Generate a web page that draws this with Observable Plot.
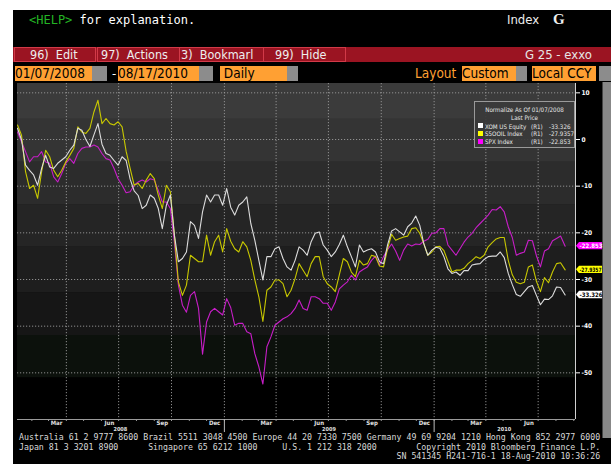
<!DOCTYPE html>
<html><head><meta charset="utf-8">
<script src="https://cdn.jsdelivr.net/npm/d3@7"></script>
<script src="https://cdn.jsdelivr.net/npm/@observablehq/plot@0.6"></script>
<style>
html,body{margin:0;padding:0;background:#fff;width:611px;height:464px;overflow:hidden;}
#screen{position:absolute;left:13px;top:10px;width:598px;height:454px;background:#000;overflow:hidden;font-family:"DejaVu Sans Condensed","DejaVu Sans",sans-serif;}
.abs{position:absolute;white-space:nowrap;}
.btn{position:absolute;top:37px;height:13px;border:1px solid #d23a48;color:#eee;font-size:12.5px;line-height:13px;overflow:hidden;font-stretch:condensed;}
.fld{position:absolute;top:56px;height:15px;background:#ffa033;color:#000;font-size:13.5px;line-height:15px;overflow:hidden;font-stretch:condensed;}
.gry{position:absolute;top:56px;height:15px;background:#8c8c8c;}
.foot{position:absolute;font-family:"DejaVu Sans Mono",monospace;font-size:8.25px;color:#d8d8d8;white-space:pre;line-height:9px;}
#legend{position:absolute;left:461px;top:91px;width:99px;height:45px;background:rgba(58,58,58,0.93);border:1px solid #9a9a9a;font-family:"DejaVu Sans Condensed","DejaVu Sans",sans-serif;font-size:6.2px;color:#e8e8e8;}
#legend div{position:absolute;white-space:nowrap;line-height:7px;}
</style></head><body>
<div id="screen">
  <div class="abs" style="left:16px;top:3px;font:12px 'DejaVu Sans Mono',monospace;color:#fff;"><span style="color:#24b424">&lt;HELP&gt;</span> for explanation.</div>
  <div class="abs" style="left:494px;top:2px;font:13px 'DejaVu Sans Condensed','DejaVu Sans',sans-serif;color:#eee;">Index</div>
  <div class="abs" style="left:540px;top:1px;font:bold 15px 'Liberation Serif',serif;color:#eee;">G</div>
  <div class="abs" style="left:0;top:37px;width:598px;height:15px;background:#9b1422;"></div>
  <div class="btn" style="left:1px;width:80px;"><span style="padding-left:15px">96)&nbsp; Edit</span></div>
  <div class="btn" style="left:84px;width:81px;"><span style="padding-left:3px">97)&nbsp; Actions</span></div>
  <div class="btn" style="left:166px;width:83px;"><span style="padding-left:1px">3)&nbsp; Bookmarl</span></div>
  <div class="btn" style="left:250px;width:81px;"><span style="padding-left:11px">99)&nbsp; Hide</span></div>
  <div class="abs" style="left:512px;top:37px;font-size:13px;line-height:15px;color:#e6e6e6;font-stretch:condensed;">G 25 - exxo</div>
  <div class="fld" style="left:2px;width:77px;">01/07/2008</div><div class="gry" style="left:79px;width:15px;"></div>
  <div class="abs" style="left:99px;top:56px;font-size:13px;line-height:15px;color:#fff;">-</div>
  <div class="fld" style="left:105px;width:81px;">08/17/2010</div><div class="gry" style="left:186px;width:14px;"></div>
  <div class="fld" style="left:207px;width:67px;">&nbsp;Daily</div><div class="gry" style="left:274px;width:11px;"></div>
  <div class="abs" style="left:402px;top:56px;font-size:13.5px;line-height:15px;color:#ffa033;font-stretch:condensed;">Layout</div>
  <div class="fld" style="left:449px;width:54px;">Custom</div><div class="gry" style="left:503px;width:11px;"></div>
  <div class="fld" style="left:519px;width:64px;">Local CCY</div><div class="gry" style="left:586px;width:12px;"></div>
  <div class="abs" style="left:589px;top:72px;width:1px;height:356px;background:#444;"></div>
  <div class="abs" style="left:590px;top:72px;width:8px;height:356px;background:#888;"></div>
  <div id="chart" class="abs" style="left:0;top:71px;"></div>
  <div id="legend"></div>
  <div class="foot" style="left:6px;top:423px;">Australia 61 2 9777 8600 Brazil 5511 3048 4500 Europe 44 20 7330 7500 Germany 49 69 9204 1210 Hong Kong 852 2977 6000</div>
  <div class="foot" style="left:6px;top:433px;">Japan 81 3 3201 8900      Singapore 65 6212 1000     U.S. 1 212 318 2000        Copyright 2010 Bloomberg Finance L.P.</div>
  <div class="foot" style="left:6px;top:442px;">                                                                            SN 541345 H241-716-1 18-Aug-2010 10:36:26</div>
</div>
<script>
// ---- data (weekly readings, normalized to 01/07/2008) ----
const startDate = "2008-01-07";
const endDate = "2010-08-17";
const xom = [
  2.4, -0.1, -5.5, -6.6, -7.6, -9.8, -6.2, -3.4, -5.9, -6.2,
  -5.1, -4.4, -3.7, -2.3, -1.2, 2.4, 2.0, 0.0, -1.5, 1.0,
  3.4, -1.0, -3.0, -3.4, -4.5, -5.5, -3.7, -4.5, -8.5, -11.0,
  -12.0, -14.8, -14.1, -11.9, -12.6, -14.8, -19.1, -14.1, -11.9, -20.5,
  -26.2, -25.5, -24.1, -17.6, -18.4, -21.2, -15.5, -11.9, -13.4, -11.9,
  -11.9, -14.1, -10.5, -14.5, -16.2, -14.1, -13.4, -12.3, -18.0, -21.6,
  -25.9, -30.1, -25.1, -25.1, -23.4, -23.0, -25.5, -27.3, -28.0, -25.9,
  -23.0, -23.7, -24.8, -21.9, -20.1, -19.8, -22.6, -23.7, -25.1, -24.1,
  -22.5, -20.5, -23.0, -25.1, -27.3, -22.6, -24.1, -23.7, -23.4, -24.1,
  -26.2, -26.6, -22.6, -19.6, -19.1, -19.8, -20.5, -18.7, -17.9, -16.4,
  -18.4, -22.3, -24.8, -23.7, -23.1, -23.3, -25.1, -27.7, -28.7, -28.4,
  -29.1, -28.1, -28.1, -26.9, -26.7, -26.6, -25.7, -25.1, -25.0, -25.0,
  -24.1, -25.3, -28.7, -31.1, -33.2, -33.6, -32.6, -31.6, -31.3, -33.4,
  -35.4, -34.2, -34.3, -33.5, -31.6, -31.7, -33.326
];
const oil = [
  3.1, 0.9, -6.9, -10.5, -9.8, -12.6, -6.9, -2.3, -3.7, -6.6,
  -8.0, -6.6, -4.8, -3.4, -1.9, 2.7, 1.6, 1.3, 2.4, 5.9,
  8.4, 3.4, 4.5, 3.4, 3.1, 3.8, 2.7, -2.5, -6.2, -9.8,
  -9.4, -10.5, -8.7, -7.3, -8.4, -11.9, -14.8, -9.8, -11.2, -20.5,
  -30.5, -33.4, -31.2, -24.8, -25.5, -26.2, -26.2, -20.5, -24.8, -21.9,
  -20.5, -24.1, -19.1, -21.8, -23.4, -24.1, -21.9, -23.0, -25.9, -30.1,
  -33.7, -39.0, -32.3, -31.6, -30.1, -30.1, -30.9, -33.7, -32.3, -29.8,
  -26.6, -28.0, -29.4, -26.6, -25.1, -25.1, -29.4, -30.9, -31.6, -32.6,
  -29.0, -25.5, -26.2, -28.4, -29.4, -25.9, -26.9, -26.6, -24.8, -25.1,
  -27.1, -27.3, -23.4, -20.3, -21.6, -21.2, -20.9, -20.7, -19.1, -18.9,
  -20.1, -22.3, -24.8, -24.1, -23.0, -22.9, -23.8, -26.1, -28.4, -28.0,
  -28.0, -27.6, -26.6, -25.9, -25.1, -25.5, -24.8, -23.0, -22.1, -21.3,
  -21.0, -21.0, -25.9, -29.0, -30.6, -30.9, -30.6, -27.3, -26.9, -30.4,
  -32.6, -29.6, -30.7, -28.4, -26.6, -26.4, -27.9357
];
const spx = [
  1.6, -0.5, -2.6, -4.8, -3.7, -3.7, -2.6, -4.8, -5.1, -8.0,
  -9.1, -7.3, -5.1, -4.1, -5.1, -3.0, -1.9, -1.6, -1.6, -1.2,
  -1.6, -3.0, -4.1, -4.4, -6.2, -8.4, -9.8, -11.4, -11.2, -9.8,
  -9.1, -8.7, -9.1, -8.4, -8.7, -10.9, -13.4, -13.4, -14.8, -21.9,
  -31.2, -35.5, -37.0, -33.4, -32.6, -36.2, -46.0, -39.1, -36.9, -36.2,
  -36.9, -37.6, -34.1, -36.0, -39.8, -39.4, -39.4, -41.2, -41.6, -45.9,
  -48.7, -52.4, -44.4, -42.3, -39.8, -39.1, -38.4, -38.0, -37.3, -36.2,
  -34.4, -36.2, -36.6, -33.7, -33.7, -34.1, -35.1, -35.1, -36.6, -34.8,
  -32.0, -31.2, -30.5, -29.1, -30.1, -28.4, -27.8, -27.3, -25.9, -25.0,
  -26.9, -25.1, -23.6, -22.4, -23.9, -25.9, -23.7, -22.4, -22.8, -22.4,
  -22.5, -21.8, -21.4, -20.1, -20.0, -19.1, -19.1, -22.6, -23.7, -24.8,
  -23.4, -22.0, -20.9, -20.1, -18.9, -18.0, -17.1, -16.2, -15.0, -15.1,
  -14.4, -15.5, -18.7, -21.0, -24.8, -24.4, -24.1, -21.6, -21.7, -24.9,
  -27.3, -23.9, -23.4, -21.7, -21.2, -20.7, -22.853
];
const seriesNames = ["XOM US Equity", "S5OOIL Index", "SPX Index"];
const seriesAxis = ["(R1)", "(R1)", "(R1)"];
const lastLabels = ["-33.326", "-27.9357", "-22.853"];
const legendTitle = "Normalize As Of 01/07/2008";
const legendSub = "Last Price";
const yTicks = [10, 0, -10, -20, -30, -40, -50];
const monthTickDates = ["2008-03-15","2008-06-15","2008-09-15","2008-12-15","2009-03-15","2009-06-15","2009-09-15","2009-12-15","2010-03-15","2010-06-15"];
const monthTickLabels = ["Mar","Jun","Sep","Dec","Mar","Jun","Sep","Dec","Mar","Jun"];
const yearLabels = ["2008","2009","2010"];
const yearLabelDates = ["2008-07-04","2009-07-02","2010-05-03"];
const gridDates = ["2008-04-01","2008-07-01","2008-10-01","2009-01-01","2009-04-01","2009-07-01","2009-10-01","2010-01-01","2010-04-01","2010-07-01"];
const yearBreaks = ["2009-01-01","2010-01-01"];

// ---- styles ----
const lineColors = ["#dcdcdc", "#c8c800", "#c81ec8"];
const keyColors = ["#ffffff", "#ffff00", "#ff00ff"];
const tagText = ["#000", "#000", "#fff"];

const parse = d3.utcParse("%Y-%m-%d");
const t0 = parse(startDate), tEnd = parse(endDate);
const seriesValues = [xom, oil, spx];
const rows = seriesValues.map((vals, s) => vals.map((v, i) => ({
  date: i === vals.length - 1 ? tEnd : d3.utcDay.offset(t0, 7 * i),
  value: v, series: seriesNames[s]
})));

const xDomain = [t0, parse("2010-09-04")];
const yDomain = [-60, 12];
const bandEdges = [12, 4.3, -4.9, -14.1, -23.1, -32.8, -42, -51.1, -60];
const bandFills = ["#3b3b3b","#343434","#2c2c2c","#252525","#1e1e1e","#161616","#0c110c","#000000"];
const bands = bandFills.map((f, i) => ({top: bandEdges[i], bottom: bandEdges[i + 1], fill: f}));
const font = "'DejaVu Sans Condensed','DejaVu Sans',sans-serif";

const plot = Plot.plot({
  width: 598, height: 352,
  marginLeft: 4, marginRight: 36, marginTop: 2, marginBottom: 14,
  style: {background: "transparent", color: "#e0e0e0", fontFamily: font, overflow: "visible"},
  x: {type: "utc", domain: xDomain, axis: null},
  y: {domain: yDomain, axis: null},
  marks: [
    Plot.rect(bands, {x1: () => xDomain[0], x2: () => xDomain[1], y1: "top", y2: "bottom", fill: "fill"}),
    Plot.gridY(yTicks, {stroke: "#9a9a9a", strokeOpacity: 0.9, strokeDasharray: "1.2,1.8"}),
    Plot.gridX(gridDates.map(parse), {stroke: "#9a9a9a", strokeOpacity: 0.9, strokeDasharray: "1.2,1.8"}),
    Plot.line(rows[2], {x: "date", y: "value", stroke: lineColors[2], strokeWidth: 1.1}),
    Plot.line(rows[1], {x: "date", y: "value", stroke: lineColors[1], strokeWidth: 1.1}),
    Plot.line(rows[0], {x: "date", y: "value", stroke: lineColors[0], strokeWidth: 1.1}),
    Plot.ruleY([yDomain[0]], {stroke: "#9a9a9a"}),
    Plot.ruleX([xDomain[1]], {stroke: "#d0d0d0"}),
    Plot.axisY(yTicks, {anchor: "right", tickSize: 4, tickPadding: 2, fontSize: 6.5, fontWeight: "bold", tickFormat: d => String(d), color: "#ffffff"}),
    Plot.axisX(d3.utcMonth.range(parse("2008-02-01"), xDomain[1]), {anchor: "bottom", tickSize: 2, tickFormat: () => "", color: "#9a9a9a"}),
    Plot.axisX(yearBreaks.map(parse), {anchor: "bottom", tickSize: 13, tickFormat: () => "", color: "#bbbbbb"}),
    Plot.text(monthTickLabels, {x: (d, i) => parse(monthTickDates[i]), frameAnchor: "bottom", dy: 5, fontSize: 6, fontWeight: "bold", fill: "#e0e0e0", text: d => d}),
    Plot.text(yearLabels, {x: (d, i) => parse(yearLabelDates[i]), frameAnchor: "bottom", dy: 11, fontSize: 5.5, fontWeight: "bold", fill: "#e0e0e0", text: d => d})
  ]
});
document.getElementById("chart").appendChild(plot);

// last-value tags on the right axis, placed with the plot's own scales
const ys = plot.scale("y"), xs = plot.scale("x");
const xr = xs.apply(xDomain[1]);
const g = d3.select(plot).append("g").attr("text-anchor", "start");
seriesValues.forEach((vals, s) => {
  const y = ys.apply(vals[vals.length - 1]);
  g.append("path")
    .attr("d", `M${xr + 1},${y} L${xr + 4},${y - 3.7} L${xr + 27},${y - 3.7} L${xr + 27},${y + 3.7} L${xr + 4},${y + 3.7} Z`)
    .attr("fill", keyColors[s]);
  const t = g.append("text").attr("x", xr + 4.5).attr("y", y).attr("dy", "0.36em")
    .attr("text-anchor", "start")
    .attr("font-size", 6).attr("font-family", font).attr("font-weight", "bold")
    .attr("fill", tagText[s]).text(lastLabels[s]);
  if (lastLabels[s].length > 7) t.attr("textLength", 22).attr("lengthAdjust", "spacingAndGlyphs");
});

// legend
const lg = document.getElementById("legend");
const add = (html, css) => { const d = document.createElement("div"); d.innerHTML = html; d.style.cssText = css; lg.appendChild(d); };
add(legendTitle, "left:0;width:99px;text-align:center;top:4px;");
add(legendSub, "left:0;width:99px;text-align:center;top:12px;");
seriesNames.forEach((n, s) => {
  const top = 20.5 + s * 7.8;
  add("", `left:3px;top:${top + 0.5}px;width:5px;height:5px;background:${keyColors[s]};`);
  add(n, `left:10px;top:${top}px;`);
  add(seriesAxis[s], `left:56px;top:${top}px;`);
  add(lastLabels[s], `left:74px;top:${top}px;`);
});
</script>
</body></html>
